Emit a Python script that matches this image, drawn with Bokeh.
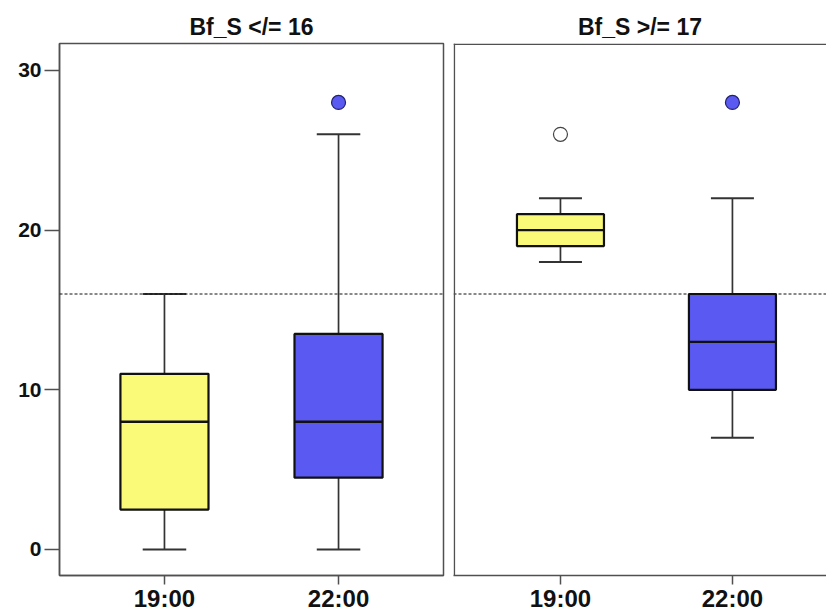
from bokeh.plotting import figure
from bokeh.layouts import row
from bokeh.models import Range1d, FixedTicker, Span, ColumnDataSource
from bokeh.embed import file_html
from bokeh.resources import INLINE

# ---- data ----
times = ["19:00", "22:00"]
panel_titles = ["Bf_S </= 16", "Bf_S >/= 17"]

# panel 1: Bf_S </= 16
p1_lower = [0, 0]
p1_q1 = [2.5, 4.5]
p1_median = [8, 8]
p1_q3 = [11, 13.5]
p1_upper = [16, 26]
p1_out_time = ["22:00"]
p1_out_val = [28]
p1_out_filled = [True]

# panel 2: Bf_S >/= 17
p2_lower = [18, 7]
p2_q1 = [19, 10]
p2_median = [20, 13]
p2_q3 = [21, 16]
p2_upper = [22, 22]
p2_out_time = ["19:00", "22:00"]
p2_out_val = [26, 28]
p2_out_filled = [False, True]

y_ticks = [0, 10, 20, 30]
reference_line = 16

box_colors = ["#FAFA78", "#5A5AF2"]
FONT = "Liberation Sans"
FRAME = "#505050"
Y0, Y1 = -1.63, 31.69


def make_panel(title, lower, q1, med, q3, upper, out_t, out_v, out_f,
               x_start, x_end, width, mb_left, mb_right, show_y):
    p = figure(width=width, height=614, output_backend="svg", toolbar_location=None,
               x_range=Range1d(x_start, x_end), y_range=Range1d(Y0, Y1),
               min_border_left=mb_left, min_border_right=mb_right,
               min_border_top=43, min_border_bottom=38)
    p.title.text = title
    p.title.align = "center"
    p.title.text_font = FONT
    p.title.text_font_style = "bold"
    p.title.text_font_size = "23px"
    p.title.text_color = "#111111"
    p.title.standoff = 8
    p.grid.visible = False
    p.background_fill_color = "white"
    p.border_fill_color = "white"

    xs = list(range(len(times)))
    src = ColumnDataSource(dict(x=xs, lower=lower, q1=q1, med=med, q3=q3, upper=upper,
                                color=box_colors,
                                xl=[x - 0.125 for x in xs], xr=[x + 0.125 for x in xs],
                                bl=[x - 0.253 for x in xs], br=[x + 0.253 for x in xs]))

    p.add_layout(Span(location=reference_line, dimension="width", line_color="#111111",
                      line_width=1, line_dash="3 2"))

    # whiskers
    p.segment(x0="x", y0="q3", x1="x", y1="upper", source=src, line_color="#333333", line_width=1.7)
    p.segment(x0="x", y0="q1", x1="x", y1="lower", source=src, line_color="#333333", line_width=1.7)
    p.segment(x0="xl", y0="upper", x1="xr", y1="upper", source=src, line_color="#333333", line_width=2)
    p.segment(x0="xl", y0="lower", x1="xr", y1="lower", source=src, line_color="#333333", line_width=2)
    # boxes
    p.vbar(x="x", width=0.506, top="q3", bottom="q1", source=src, fill_color="color",
           line_color="#111111", line_width=2.2)
    p.segment(x0="bl", y0="med", x1="br", y1="med", source=src, line_color="#111111", line_width=2.4)

    # outliers
    ox = [times.index(t) for t in out_t]
    fills = [box_colors[times.index(t)] if f else "white" for t, f in zip(out_t, out_f)]
    lines = ["#222266" if f else "#444444" for f in out_f]
    p.scatter(x=ox, y=out_v, size=14, fill_color=fills, line_color=lines, line_width=1.2)

    # x axis
    p.xaxis.ticker = FixedTicker(ticks=xs)
    p.xaxis.major_label_overrides = {i: t for i, t in enumerate(times)}
    p.xaxis.major_label_text_font = FONT
    p.xaxis.major_label_text_font_style = "bold"
    p.xaxis.major_label_text_font_size = "24px"
    p.xaxis.major_label_text_color = "#111111"
    p.xaxis.major_tick_out = 9
    p.xaxis.major_tick_in = 0
    p.xaxis.minor_tick_line_color = None
    p.xaxis.major_tick_line_color = FRAME
    p.xaxis.major_tick_line_width = 1.5
    p.xaxis.axis_line_color = FRAME
    p.xaxis.axis_line_width = 1.5
    p.xaxis.major_label_standoff = 0

    # y axis
    if show_y:
        p.yaxis.ticker = FixedTicker(ticks=y_ticks)
        p.yaxis.minor_tick_line_color = None
        p.yaxis.axis_line_color = FRAME
        p.yaxis.axis_line_width = 1.5
        p.yaxis.major_label_text_font = FONT
        p.yaxis.major_label_text_font_style = "bold"
        p.yaxis.major_label_text_font_size = "21px"
        p.yaxis.major_label_text_color = "#111111"
        p.yaxis.major_tick_out = 15
        p.yaxis.major_tick_in = 0
        p.yaxis.major_tick_line_color = FRAME
        p.yaxis.major_tick_line_width = 1.5
        p.yaxis.major_label_standoff = 3
        p.outline_line_color = FRAME
        p.outline_line_width = 1.5
    else:
        p.yaxis.visible = False
        p.outline_line_color = None
        p.add_layout(Span(location=Y1 - 0.05, dimension="width", line_color=FRAME, line_width=1.5))
        p.add_layout(Span(location=x_start + 0.005, dimension="height", line_color=FRAME, line_width=1.5))
    return p


p1 = make_panel(panel_titles[0], p1_lower, p1_q1, p1_median, p1_q3, p1_upper,
                p1_out_time, p1_out_val, p1_out_filled,
                -0.603, 1.603, 448, 59, 5, True)
p2 = make_panel(panel_titles[1], p2_lower, p2_q1, p2_median, p2_q3, p2_upper,
                p2_out_time, p2_out_val, p2_out_filled,
                -0.622, 1.547, 378, 5, 0, False)
p2.y_range = p1.y_range

layout = row(p1, p2)
open("out.html", "w").write(file_html(layout, INLINE))
